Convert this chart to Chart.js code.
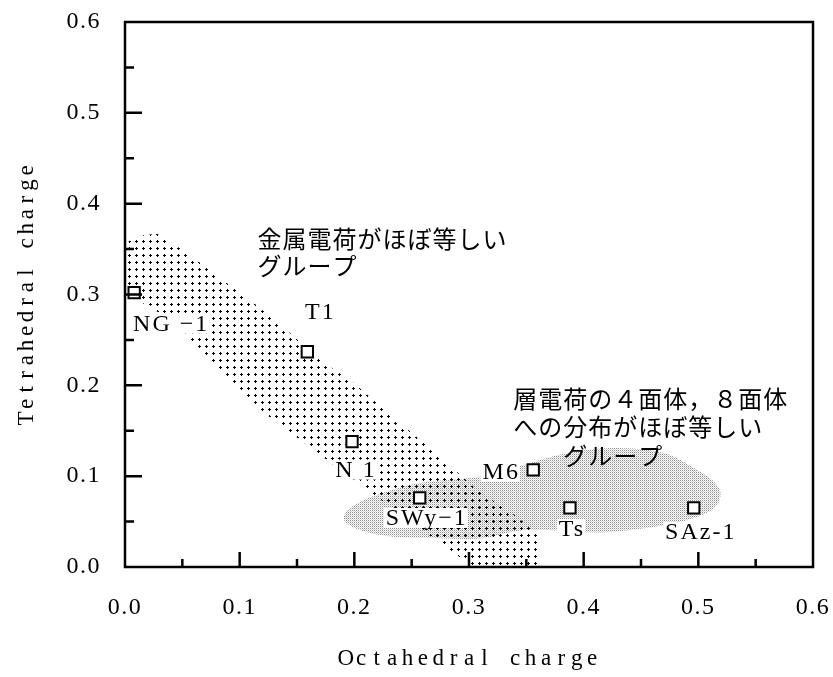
<!DOCTYPE html>
<html>
<head>
<meta charset="utf-8">
<script src="https://cdn.jsdelivr.net/npm/chart.js@4.4.1/dist/chart.umd.min.js"></script>
<style>
  html, body { margin: 0; padding: 0; background: #fff; }
  #wrap { width: 833px; height: 677px; }
</style>
</head>
<body>
<div id="wrap"><canvas id="chart" width="833" height="677"></canvas></div>
<script>
// ---- data ----
const sampleNames = ['NG \u22121', 'T1', 'N 1', 'SWy\u22121', 'M6', 'Ts', 'SAz-1'];
const octahedralCharge = [0.008, 0.159, 0.198, 0.257, 0.356, 0.388, 0.496];
const tetrahedralCharge = [0.302, 0.237, 0.138, 0.076, 0.107, 0.065, 0.065];

const tickValues = [0.0, 0.1, 0.2, 0.3, 0.4, 0.5, 0.6];
const minorTickValues = [0.05, 0.15, 0.25, 0.35, 0.45, 0.55];

// group with similar metal charge (dotted band), outline in data units
const metalGroupOct = [0, 0.009, 0.028, 0.054, 0.083, 0.112, 0.141, 0.170, 0.199, 0.234, 0.275, 0.307, 0.340, 0.362, 0.362,
                       0.304, 0.272, 0.199, 0.120, 0.068, 0.054, 0.022, 0];
const metalGroupTet = [0.355, 0.364, 0.367, 0.346, 0.318, 0.291, 0.261, 0.228, 0.203, 0.165, 0.121, 0.085, 0.057, 0.035, 0,
                       0, 0.029, 0.096, 0.171, 0.237, 0.252, 0.288, 0.296];

// group with similar tetrahedral/octahedral share of layer charge (stippled area)
const layerGroupOct = [0.188, 0.202, 0.225, 0.255, 0.283, 0.312, 0.342, 0.368, 0.386, 0.414, 0.443, 0.473, 0.495, 0.513,
                       0.521, 0.516, 0.501, 0.473, 0.443, 0.414, 0.371, 0.342, 0.312, 0.269, 0.225, 0.196];
const layerGroupTet = [0.055, 0.071, 0.082, 0.093, 0.096, 0.099, 0.110, 0.120, 0.126, 0.131, 0.131, 0.126, 0.110, 0.096,
                       0.082, 0.066, 0.055, 0.046, 0.041, 0.037, 0.041, 0.041, 0.030, 0.032, 0.033, 0.044];

// text notes
const metalGroupNote = ['金属電荷がほぼ等しい', 'グループ'];
const layerGroupNote = ['層電荷の４面体，８面体', 'への分布がほぼ等しい', 'グループ'];
const xTitle = 'Octahedral charge';
const yTitle = 'Tetrahedral charge';

// ---- layout of annotation text (pixel offsets / anchors) ----
const nameOffsets = [[36, 31], [12, -40], [3, 28], [6, 20], [-33, 2], [1, 21], [6, 24]];
const metalNoteAnchor = { x: 0.1155, y: 0.361 };
const layerNoteAnchor = { x: 0.3386, y: 0.1854 };
const layerNoteIndent = [0, 0, 50];

const SERIF = '"Liberation Serif", "DejaVu Serif", serif';
const CJK = '"Noto Sans CJK JP", "Noto Sans CJK SC", sans-serif';

// fill patterns
function makeDotPattern(ctx) {
  const c = document.createElement('canvas');
  c.width = 7; c.height = 7;
  const g = c.getContext('2d');
  g.fillStyle = '#000';
  g.fillRect(2, 3, 3, 1);
  g.fillRect(3, 2, 1, 3);
  return ctx.createPattern(c, 'repeat');
}
function makeStipplePattern(ctx) {
  const c = document.createElement('canvas');
  c.width = 2; c.height = 2;
  const g = c.getContext('2d');
  g.fillStyle = 'rgba(0,0,0,0.45)';
  g.fillRect(0, 0, 1, 1);
  g.fillStyle = 'rgba(0,0,0,0.18)';
  g.fillRect(1, 1, 1, 1);
  return ctx.createPattern(c, 'repeat');
}

function toPixels(chart, xs, ys) {
  const { x, y } = chart.scales;
  return xs.map((v, i) => [x.getPixelForValue(v), y.getPixelForValue(ys[i])]);
}
function smoothClosedPath(ctx, pts) {
  const n = pts.length;
  const mid = (a, b) => [(a[0] + b[0]) / 2, (a[1] + b[1]) / 2];
  const start = mid(pts[n - 1], pts[0]);
  ctx.beginPath();
  ctx.moveTo(start[0], start[1]);
  for (let i = 0; i < n; i++) {
    const p = pts[i], m = mid(p, pts[(i + 1) % n]);
    ctx.quadraticCurveTo(p[0], p[1], m[0], m[1]);
  }
  ctx.closePath();
}
function polyPath(ctx, pts) {
  ctx.beginPath();
  pts.forEach((p, i) => i ? ctx.lineTo(p[0], p[1]) : ctx.moveTo(p[0], p[1]));
  ctx.closePath();
}
// draws text one glyph per fixed-width cell
function drawCells(ctx, text, cx, cy, pitch) {
  const chars = [...text];
  const total = chars.length * pitch;
  chars.forEach((ch, i) => {
    ctx.fillText(ch, cx - total / 2 + pitch * (i + 0.5), cy);
  });
}
// keep the plot frame fixed: no extra room reserved for overhanging labels
function noOverhang(s) {
  s.paddingTop = 0; s.paddingBottom = 0; s.paddingLeft = 0; s.paddingRight = 0;
}

const groupsPlugin = {
  id: 'groups',
  beforeDraw(chart) {
    chart.ctx.letterSpacing = '1.5px';
  },
  beforeDatasetsDraw(chart) {
    const ctx = chart.ctx;
    ctx.letterSpacing = '0px';
    const a = chart.chartArea;
    ctx.save();
    ctx.beginPath();
    ctx.rect(a.left, a.top, a.right - a.left, a.bottom - a.top);
    ctx.clip();
    smoothClosedPath(ctx, toPixels(chart, layerGroupOct, layerGroupTet));
    ctx.fillStyle = makeStipplePattern(ctx);
    ctx.fill();
    polyPath(ctx, toPixels(chart, metalGroupOct, metalGroupTet));
    ctx.fillStyle = makeDotPattern(ctx);
    ctx.fill();
    ctx.restore();

    // notes
    const { x, y } = chart.scales;
    ctx.save();
    ctx.fillStyle = '#000';
    ctx.font = '24px ' + CJK;
    ctx.letterSpacing = '1px';
    ctx.textAlign = 'left';
    ctx.textBaseline = 'middle';
    const mx = x.getPixelForValue(metalNoteAnchor.x), my = y.getPixelForValue(metalNoteAnchor.y);
    metalGroupNote.forEach((t, i) => ctx.fillText(t, mx, my + i * 27));
    const lx = x.getPixelForValue(layerNoteAnchor.x), ly = y.getPixelForValue(layerNoteAnchor.y);
    layerGroupNote.forEach((t, i) => ctx.fillText(t, lx + layerNoteIndent[i], ly + i * 28.5));
    ctx.restore();

    // sample names
    ctx.save();
    ctx.font = '24px ' + SERIF;
    ctx.letterSpacing = '2px';
    ctx.textAlign = 'center';
    ctx.textBaseline = 'middle';
    sampleNames.forEach((name, i) => {
      const px = x.getPixelForValue(octahedralCharge[i]) + nameOffsets[i][0];
      const py = y.getPixelForValue(tetrahedralCharge[i]) + nameOffsets[i][1];
      const w = ctx.measureText(name).width;
      ctx.fillStyle = '#fff';
      ctx.fillRect(px - w / 2 - 1, py - 10, w + 2, 20);
      ctx.fillStyle = '#000';
      ctx.fillText(name, px + 1, py + 1);
    });
    ctx.restore();
  },
  afterDraw(chart) {
    const ctx = chart.ctx;
    const a = chart.chartArea;
    const { x, y } = chart.scales;
    ctx.save();
    ctx.letterSpacing = '0px';
    ctx.strokeStyle = '#000';
    ctx.lineWidth = 2.5;
    ctx.strokeRect(a.left, a.top, a.right - a.left, a.bottom - a.top);
    // inward tick marks
    ctx.beginPath();
    tickValues.slice(1, -1).forEach(v => {
      const px = x.getPixelForValue(v);
      ctx.moveTo(px, a.bottom); ctx.lineTo(px, a.bottom - 15);
      const py = y.getPixelForValue(v);
      ctx.moveTo(a.left, py); ctx.lineTo(a.left + 17, py);
    });
    minorTickValues.forEach(v => {
      const px = x.getPixelForValue(v);
      ctx.moveTo(px, a.bottom); ctx.lineTo(px, a.bottom - 8);
      const py = y.getPixelForValue(v);
      ctx.moveTo(a.left, py); ctx.lineTo(a.left + 9, py);
    });
    ctx.stroke();

    // axis titles
    ctx.fillStyle = '#000';
    ctx.font = '23px ' + SERIF;
    ctx.textAlign = 'center';
    ctx.textBaseline = 'middle';
    drawCells(ctx, xTitle, (a.left + a.right) / 2, 659, 15.4);
    ctx.translate(27, (a.top + a.bottom) / 2);
    ctx.rotate(-Math.PI / 2);
    drawCells(ctx, yTitle, 0, 0, 14.6);
    ctx.restore();
  }
};

const points = octahedralCharge.map((v, i) => ({ x: v, y: tetrahedralCharge[i] }));

new Chart(document.getElementById('chart'), {
  type: 'scatter',
  data: {
    datasets: [
      {
        label: 'samples',
        data: points,
        pointStyle: 'rect',
        pointRadius: 8,
        pointHoverRadius: 8,
        pointBackgroundColor: '#fff',
        pointBorderColor: '#000',
        pointBorderWidth: 2
      },
      {
        label: 'centres',
        data: points,
        pointStyle: 'circle',
        pointRadius: 1.4,
        pointHoverRadius: 1.4,
        pointBackgroundColor: '#000',
        pointBorderWidth: 0
      }
    ]
  },
  options: {
    responsive: false,
    animation: false,
    devicePixelRatio: 1,
    events: [],
    layout: { padding: { left: 0, right: 20, top: 22, bottom: 0 } },
    plugins: { legend: { display: false }, tooltip: { enabled: false } },
    scales: {
      x: {
        type: 'linear',
        min: 0, max: 0.6,
        afterBuildTicks: s => { s.ticks = tickValues.map(v => ({ value: v })); },
        grid: { display: false },
        border: { display: false },
        ticks: {
          padding: 18,
          color: '#000',
          maxRotation: 0,
          font: { family: SERIF, size: 24 },
          callback: v => v.toFixed(1)
        },
        afterFit: s => { s.height = 110; noOverhang(s); }
      },
      y: {
        type: 'linear',
        min: 0, max: 0.6,
        afterBuildTicks: s => { s.ticks = tickValues.map(v => ({ value: v })); },
        grid: { display: false },
        border: { display: false },
        ticks: {
          padding: 16,
          color: '#000',
          font: { family: SERIF, size: 24 },
          callback: v => v.toFixed(1)
        },
        afterFit: s => { s.width = 125; noOverhang(s); }
      }
    }
  },
  plugins: [groupsPlugin]
});
</script>
</body>
</html>
